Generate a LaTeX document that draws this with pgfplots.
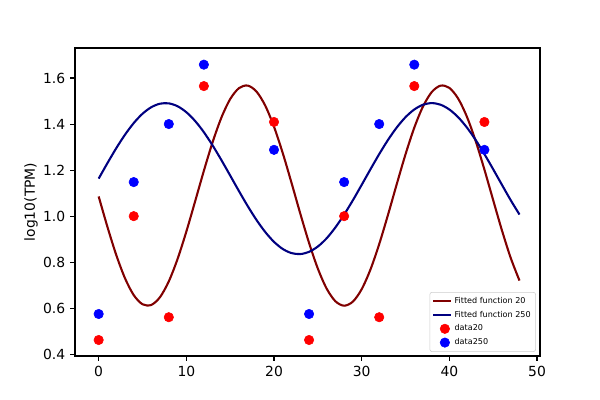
\documentclass[border=0pt]{standalone}
\usepackage{fontspec}
\setmainfont{DejaVu Sans}
\usepackage{pgfplots}
\pgfplotsset{compat=1.18}
\definecolor{dred}{HTML}{800000}
\definecolor{dblue}{HTML}{000080}
\definecolor{pred}{HTML}{FF0000}
\definecolor{pblue}{HTML}{0000FF}
\pgfplotsset{shortlegend/.style={legend image code/.code={\draw[##1] (0cm,0cm) -- (0.45cm,0cm);}}}
\begin{document}
\begin{tikzpicture}
\begin{axis}[
  scale only axis, width=334.8pt, height=221.76pt,
  xmin=-2.7, xmax=50.34, ymin=0.3926, ymax=1.7304,
  xtick={0,10,20,30,40,50},
  ytick={0.4,0.6,0.8,1.0,1.2,1.4,1.6},
  yticklabels={0.4,0.6,0.8,1.0,1.2,1.4,1.6},
  tick align=outside, xtick pos=bottom, ytick pos=left,
  major tick length=3.5pt,
  every tick/.style={black, line width=0.8pt},
  axis line style={line width=0.8pt},
  tick label style={font=\fontsize{10}{12}\selectfont},
  /pgf/number format/assume math mode=true,
  ylabel={log10(TPM)},
  ylabel style={yshift=-3pt},
  label style={font=\fontsize{10}{12}\selectfont},
  legend style={at={(1,0)}, anchor=south east, xshift=-3pt, yshift=3pt,
    font=\fontsize{5.8}{6.5}\selectfont, draw=black!20, rounded corners=1.5pt,
    fill=white, row sep=0pt, inner sep=1.5pt},
  legend cell align=left,
]
\addplot[only marks, mark=*, mark size=3.4pt, pred, forget plot] coordinates {
(0,0.462) (4,1.0) (8,0.561) (12,1.565) (20,1.409)
(24,0.462) (28,1.0) (32,0.561) (36,1.565) (44,1.409)};
\addplot[only marks, mark=*, mark size=3.4pt, pblue, forget plot] coordinates {
(0,0.575) (4,1.148) (8,1.4) (12,1.658) (20,1.288)
(24,0.575) (28,1.148) (32,1.4) (36,1.658) (44,1.288)};
\addplot[dred, line width=1.5pt, smooth, no marks, shortlegend] coordinates {
(0,1.0855) (1,0.9534) (2,0.8319) (3,0.7305) (4,0.6570) (5,0.6173) (6,0.6143)
(7,0.6483) (8,0.7167) (9,0.8141) (10,0.9330) (11,1.0640) (12,1.1971) (13,1.3218)
(14,1.4283) (15,1.5085) (16,1.5560) (17,1.5672) (18,1.5413) (19,1.4801) (20,1.3884)
(21,1.2735) (22,1.1443) (23,1.0108) (24,0.8835) (25,0.7721) (26,0.6855) (27,0.6304)
(28,0.6110) (29,0.6289) (30,0.6827) (31,0.7681) (32,0.8786) (33,1.0055) (34,1.1389)
(35,1.2686) (36,1.3843) (37,1.4769) (38,1.5394) (39,1.5669) (40,1.5572) (41,1.5111)
(42,1.4321) (43,1.3265) (44,1.2023) (45,1.0694) (46,0.9381) (47,0.8185) (48,0.7201)};
\addlegendentry{Fitted function 20}
\addplot[dblue, line width=1.5pt, smooth, no marks, shortlegend] coordinates {
(0,1.1630) (1,1.2303) (2,1.2948) (3,1.3536) (4,1.4043) (5,1.4448) (6,1.4732)
(7,1.4885) (8,1.4899) (9,1.4774) (10,1.4515) (11,1.4134) (12,1.3647) (13,1.3071)
(14,1.2435) (15,1.1765) (16,1.1090) (17,1.0438) (18,0.9836) (19,0.9311) (20,0.8883)
(21,0.8573) (22,0.8395) (23,0.8353) (24,0.8450) (25,0.8681) (26,0.9036) (27,0.9510)
(28,1.0070) (29,1.0693) (30,1.1359) (31,1.2035) (32,1.2695) (33,1.3309) (34,1.3851)
(35,1.4299) (36,1.4633) (37,1.4840) (38,1.4910) (39,1.4840) (40,1.4633) (41,1.4299)
(42,1.3851) (43,1.3309) (44,1.2695) (45,1.2036) (46,1.1360) (47,1.0693) (48,1.0070)};
\addlegendentry{Fitted function 250}
\addlegendimage{only marks, mark=*, mark size=3.4pt, pred}
\addlegendentry{data20}
\addlegendimage{only marks, mark=*, mark size=3.4pt, pblue}
\addlegendentry{data250}
\end{axis}
\path ([shift={(-54pt,-31.68pt)}]current axis.south west) rectangle ([shift={(43.2pt,34.56pt)}]current axis.north east);
\end{tikzpicture}
\end{document}
